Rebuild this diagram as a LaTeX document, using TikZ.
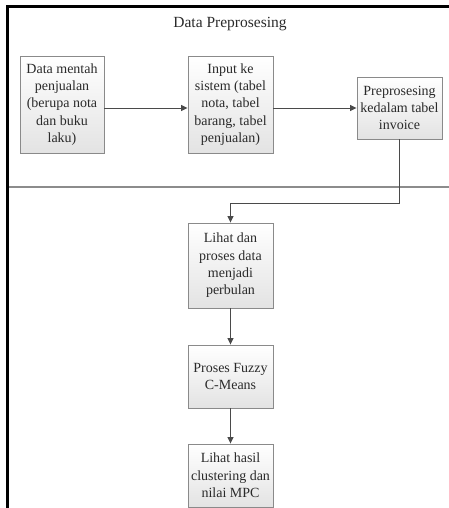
\documentclass[tikz,border=0pt]{standalone}
\usepackage{fontspec}
\setmainfont{Liberation Serif}
\usetikzlibrary{arrows.meta,shadows,calc}
\definecolor{boxline}{HTML}{8A8A8A}
\definecolor{arrline}{HTML}{4A4A4A}
\definecolor{txt}{HTML}{2A2A2A}
\tikzset{
  procbox/.style={draw=boxline, line width=0.9pt, top color=white, bottom color=black!11,
    minimum width=85pt, align=center, inner sep=0pt, text=txt,
    font=\fontsize{14}{17.3}\selectfont,
    drop shadow={opacity=0.25, shadow xshift=1.2pt, shadow yshift=-1.2pt}},
  arr/.style={draw=arrline, line width=0.9pt, -{Triangle[length=6.5pt,width=6pt]}},
}
\begin{document}
\begin{tikzpicture}[x=1pt,y=-1pt]
\useasboundingbox (0,0) rectangle (449,508);
% pool frame
\draw[black, line width=3pt] (7.5,508) -- (7.5,6.5) -- (449,6.5);
\draw[black!45, line width=1.3pt] (9,187) -- (449,187);
\node[text=txt, font=\fontsize{15.5}{18}\selectfont] (title) at (230,24) {Data Preprosesing};
% boxes
\node[procbox, minimum height=97pt, minimum width=84pt] (b1) at (62,104.5) {Data mentah\\penjualan\\(berupa nota\\dan buku\\laku)};
\node[procbox, minimum height=97pt] (b2) at (230.5,104.5) {Input ke\\sistem (tabel\\nota, tabel\\barang, tabel\\penjualan)};
\node[procbox, minimum height=62pt] (b3) at (399.5,108) {Preprosesing\\kedalam tabel\\invoice};
\node[procbox, minimum height=85pt] (b4) at (230.5,265.5) {Lihat dan\\proses data\\menjadi\\perbulan};
\node[procbox, minimum height=63pt] (b5) at (230.5,376.5) {Proses Fuzzy\\C-Means};
\node[procbox, minimum height=63pt] (b6) at (230.5,475.5) {Lihat hasil\\clustering dan\\nilai MPC};
% connectors
\draw[arr] (b1.east |- b3.west) -- (b2.west |- b3.west);
\draw[arr] (b2.east |- b3.west) -- (b3.west);
\draw[arr] (b3.south) -- ++(0,64) -| (b4.north);
\draw[arr] (b4.south) -- (b5.north);
\draw[arr] (b5.south) -- (b6.north);
\end{tikzpicture}
\end{document}
